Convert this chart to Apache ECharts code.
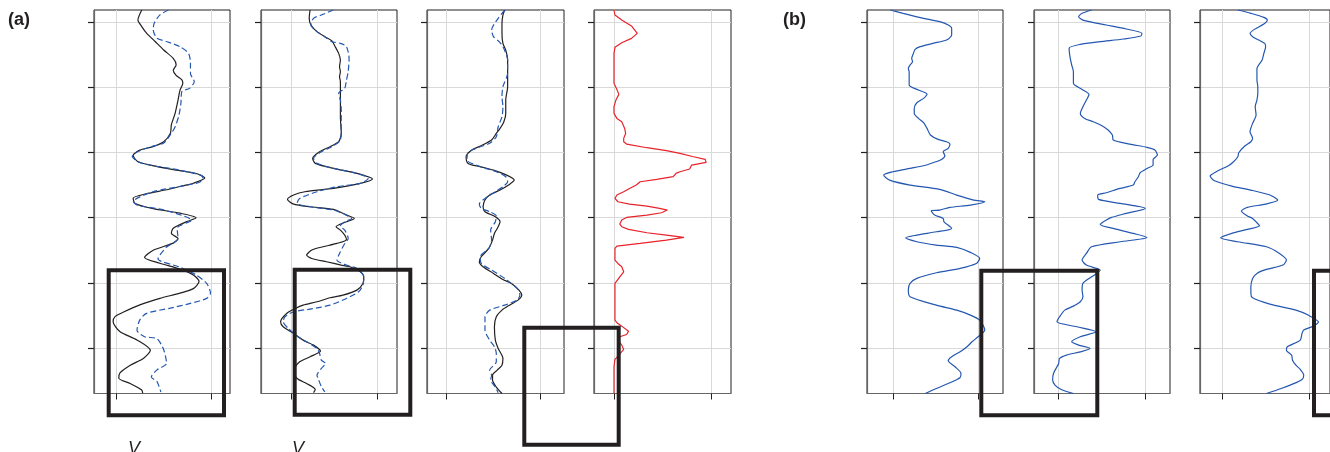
<!DOCTYPE html>
<html><head><meta charset="utf-8">
<script src="https://cdn.jsdelivr.net/npm/echarts@6/dist/echarts.min.js"></script>
<style>html,body{margin:0;padding:0;background:#fff}#c{width:1330px;height:452px}</style>
</head><body><div id="c"></div><script>
// ---- axis ticks ----
const depthTicks = [0, 1, 2, 3, 4, 5];
const valueTicks = [0, 1];
const panelLabels = ['(a)', '(b)'];
const axisLabelText = 'V';

// ---- series data: [value, depth] ----
const a1Black = [[0.27,-0.195],[0.23,-0.04],[0.27,0.06],[0.32,0.16],[0.41,0.29],[0.50,0.42],[0.60,0.55],[0.63,0.65],[0.60,0.73],[0.63,0.81],[0.69,0.88],[0.70,0.93],[0.67,1.04],[0.65,1.19],[0.62,1.39],[0.58,1.57],[0.57,1.70],[0.50,1.83],[0.38,1.91],[0.25,1.96],[0.18,2.04],[0.23,2.14],[0.36,2.19],[0.60,2.26],[0.84,2.32],[0.93,2.39],[0.81,2.47],[0.67,2.52],[0.53,2.57],[0.32,2.63],[0.18,2.70],[0.20,2.78],[0.39,2.86],[0.67,2.93],[0.84,3.00],[0.74,3.06],[0.60,3.16],[0.58,3.24],[0.65,3.32],[0.60,3.39],[0.39,3.50],[0.30,3.61],[0.46,3.70],[0.67,3.79],[0.81,3.88],[0.87,3.98],[0.81,4.09],[0.67,4.16],[0.46,4.24],[0.25,4.34],[0.08,4.45],[-0.01,4.52],[-0.03,4.60],[0.04,4.75],[0.22,4.88],[0.36,5.04],[0.29,5.16],[0.15,5.27],[0.04,5.39],[0.03,5.47],[0.15,5.55],[0.27,5.65],[0.28,5.70]];
const a1Blue = [[0.55,-0.195],[0.46,-0.12],[0.40,0.01],[0.39,0.11],[0.43,0.24],[0.53,0.29],[0.67,0.37],[0.76,0.47],[0.78,0.63],[0.78,0.78],[0.82,0.91],[0.77,1.01],[0.69,1.06],[0.68,1.24],[0.66,1.42],[0.62,1.60],[0.58,1.70],[0.50,1.85],[0.36,1.91],[0.22,1.99],[0.17,2.06],[0.25,2.15],[0.39,2.20],[0.67,2.27],[0.91,2.37],[0.88,2.45],[0.70,2.51],[0.39,2.60],[0.18,2.75],[0.23,2.81],[0.50,2.88],[0.79,3.04],[0.64,3.16],[0.65,3.32],[0.53,3.45],[0.44,3.63],[0.67,3.76],[0.84,3.88],[0.95,4.01],[0.99,4.16],[0.95,4.24],[0.77,4.32],[0.57,4.39],[0.32,4.47],[0.25,4.57],[0.22,4.73],[0.30,4.83],[0.43,4.86],[0.50,5.03],[0.53,5.24],[0.43,5.34],[0.37,5.45],[0.43,5.52],[0.47,5.68]];

const a2Black = [[0.22,-0.195],[0.21,-0.067],[0.23,0.036],[0.30,0.138],[0.39,0.215],[0.47,0.277],[0.51,0.369],[0.55,0.472],[0.57,0.574],[0.56,0.677],[0.57,0.754],[0.56,0.831],[0.57,0.908],[0.57,1.010],[0.57,1.190],[0.57,1.446],[0.58,1.703],[0.55,1.831],[0.45,1.908],[0.33,1.985],[0.25,2.087],[0.28,2.164],[0.49,2.241],[0.76,2.318],[0.94,2.405],[0.80,2.472],[0.49,2.549],[0.16,2.600],[0.03,2.651],[-0.04,2.718],[0.03,2.790],[0.22,2.831],[0.49,2.872],[0.64,2.959],[0.73,3.010],[0.64,3.062],[0.52,3.138],[0.57,3.190],[0.62,3.267],[0.64,3.333],[0.53,3.395],[0.37,3.446],[0.24,3.497],[0.18,3.574],[0.24,3.626],[0.41,3.677],[0.58,3.728],[0.68,3.754],[0.80,3.831],[0.84,3.908],[0.83,4.010],[0.76,4.113],[0.60,4.190],[0.45,4.231],[0.30,4.292],[0.14,4.344],[0.05,4.395],[-0.05,4.472],[-0.12,4.600],[-0.09,4.677],[0.03,4.779],[0.14,4.882],[0.26,4.959],[0.34,5.051],[0.22,5.138],[0.10,5.215],[0.05,5.292],[0.03,5.369],[0.07,5.472],[0.18,5.549],[0.28,5.641],[0.26,5.69]];
const a2Blue = [[0.49,-0.195],[0.35,-0.118],[0.26,-0.067],[0.23,0.036],[0.30,0.138],[0.39,0.215],[0.47,0.292],[0.57,0.318],[0.64,0.369],[0.67,0.549],[0.66,0.754],[0.64,0.882],[0.62,1.010],[0.55,1.087],[0.57,1.190],[0.58,1.344],[0.58,1.600],[0.57,1.805],[0.47,1.908],[0.35,1.985],[0.26,2.087],[0.30,2.164],[0.49,2.241],[0.76,2.318],[0.89,2.395],[0.80,2.472],[0.53,2.523],[0.30,2.600],[0.10,2.703],[0.07,2.779],[0.22,2.831],[0.49,2.882],[0.64,2.959],[0.70,3.010],[0.62,3.062],[0.57,3.128],[0.62,3.190],[0.66,3.318],[0.62,3.395],[0.56,3.549],[0.53,3.651],[0.64,3.728],[0.76,3.779],[0.84,3.908],[0.83,4.036],[0.78,4.138],[0.64,4.241],[0.45,4.344],[0.22,4.405],[0.03,4.446],[-0.07,4.523],[-0.09,4.600],[-0.03,4.703],[0.08,4.831],[0.18,4.908],[0.30,5.010],[0.33,5.087],[0.35,5.190],[0.40,5.241],[0.35,5.318],[0.30,5.421],[0.32,5.497],[0.35,5.595],[0.39,5.677]];

const a3Black = [[0.62,-0.195],[0.60,-0.118],[0.59,0.010],[0.59,0.164],[0.60,0.318],[0.63,0.421],[0.65,0.574],[0.65,0.779],[0.65,0.985],[0.63,1.190],[0.63,1.395],[0.61,1.523],[0.57,1.626],[0.53,1.703],[0.48,1.805],[0.37,1.892],[0.27,1.959],[0.21,2.062],[0.23,2.164],[0.36,2.215],[0.50,2.267],[0.64,2.344],[0.72,2.421],[0.66,2.497],[0.57,2.574],[0.46,2.651],[0.41,2.728],[0.39,2.831],[0.41,2.908],[0.52,2.985],[0.57,3.062],[0.54,3.164],[0.51,3.241],[0.49,3.344],[0.45,3.472],[0.37,3.600],[0.35,3.677],[0.39,3.754],[0.50,3.856],[0.60,3.949],[0.69,4.010],[0.77,4.113],[0.80,4.190],[0.76,4.267],[0.67,4.344],[0.59,4.421],[0.53,4.523],[0.51,4.677],[0.52,4.882],[0.55,5.010],[0.60,5.164],[0.59,5.267],[0.54,5.344],[0.49,5.421],[0.49,5.497],[0.53,5.605],[0.59,5.703]];
const a3Blue = [[0.62,-0.195],[0.55,-0.067],[0.48,0.113],[0.50,0.215],[0.56,0.292],[0.60,0.369],[0.65,0.574],[0.65,0.779],[0.60,0.985],[0.59,1.138],[0.60,1.292],[0.59,1.446],[0.55,1.600],[0.53,1.754],[0.46,1.856],[0.36,1.908],[0.23,2.000],[0.22,2.113],[0.36,2.215],[0.53,2.292],[0.63,2.369],[0.65,2.446],[0.60,2.523],[0.52,2.600],[0.41,2.703],[0.35,2.790],[0.37,2.856],[0.46,2.908],[0.53,2.974],[0.52,3.062],[0.47,3.190],[0.48,3.344],[0.45,3.472],[0.36,3.600],[0.37,3.703],[0.48,3.805],[0.62,3.933],[0.75,4.087],[0.78,4.190],[0.75,4.267],[0.62,4.344],[0.46,4.421],[0.41,4.523],[0.41,4.728],[0.46,4.882],[0.51,4.985],[0.53,5.087],[0.53,5.215],[0.46,5.344],[0.48,5.421],[0.47,5.497],[0.52,5.605],[0.55,5.692]];

const a4Red = [[0.00,-0.195],[0.01,-0.118],[0.08,-0.041],[0.18,0.051],[0.24,0.164],[0.18,0.241],[0.08,0.308],[0.01,0.379],[0.00,0.472],[0.00,0.933],[0.03,1.026],[0.05,1.103],[0.02,1.190],[0.00,1.292],[0.00,1.395],[0.03,1.472],[0.08,1.523],[0.11,1.626],[0.12,1.703],[0.10,1.779],[0.10,1.831],[0.13,1.867],[0.34,1.923],[0.54,1.969],[0.68,2.010],[0.82,2.062],[0.94,2.103],[0.95,2.149],[0.80,2.190],[0.78,2.251],[0.68,2.292],[0.64,2.318],[0.61,2.369],[0.44,2.410],[0.27,2.446],[0.23,2.497],[0.16,2.549],[0.10,2.600],[0.03,2.651],[0.01,2.703],[0.04,2.754],[0.16,2.790],[0.34,2.821],[0.47,2.856],[0.55,2.882],[0.49,2.923],[0.34,2.959],[0.13,2.995],[0.08,3.036],[0.06,3.097],[0.08,3.138],[0.15,3.179],[0.34,3.231],[0.54,3.267],[0.72,3.303],[0.54,3.344],[0.27,3.395],[0.03,3.436],[0.01,3.472],[0.01,3.651],[0.04,3.703],[0.08,3.754],[0.10,3.831],[0.06,3.908],[0.01,4.010],[0.01,4.062],[0.01,4.574],[0.03,4.615],[0.08,4.667],[0.15,4.744],[0.13,4.795],[0.06,4.831],[0.04,4.882],[0.08,4.959],[0.10,5.026],[0.05,5.113],[0.01,5.179],[0.00,5.292],[0.00,5.703]];

const b1Blue = [[-0.03,-0.195],[0.12,-0.144],[0.36,-0.067],[0.55,-0.015],[0.65,0.036],[0.69,0.087],[0.69,0.190],[0.63,0.267],[0.47,0.318],[0.32,0.369],[0.26,0.410],[0.24,0.472],[0.22,0.549],[0.23,0.600],[0.20,0.651],[0.18,0.703],[0.19,0.754],[0.19,0.831],[0.19,0.959],[0.30,1.036],[0.40,1.097],[0.36,1.164],[0.28,1.231],[0.25,1.318],[0.25,1.395],[0.30,1.472],[0.36,1.538],[0.40,1.626],[0.44,1.728],[0.53,1.795],[0.63,1.831],[0.67,1.867],[0.65,1.933],[0.59,1.985],[0.61,2.046],[0.57,2.103],[0.47,2.154],[0.36,2.200],[0.20,2.241],[0.00,2.292],[-0.11,2.344],[-0.04,2.421],[0.20,2.497],[0.55,2.564],[0.75,2.651],[0.95,2.728],[1.08,2.754],[0.91,2.805],[0.67,2.841],[0.55,2.882],[0.45,2.892],[0.49,2.959],[0.59,3.010],[0.60,3.062],[0.69,3.164],[0.51,3.215],[0.28,3.267],[0.15,3.308],[0.28,3.369],[0.51,3.421],[0.75,3.456],[0.91,3.533],[1.02,3.626],[0.98,3.703],[0.79,3.779],[0.51,3.846],[0.28,3.933],[0.20,4.010],[0.18,4.113],[0.20,4.215],[0.51,4.344],[0.75,4.421],[0.91,4.497],[1.02,4.574],[1.08,4.728],[1.00,4.831],[0.93,4.908],[0.87,4.985],[0.79,5.062],[0.69,5.138],[0.65,5.200],[0.73,5.292],[0.80,5.395],[0.79,5.456],[0.67,5.538],[0.51,5.626],[0.38,5.703]];

const b2Blue = [[0.38,-0.195],[0.27,-0.144],[0.23,-0.092],[0.30,-0.031],[0.55,0.036],[0.78,0.097],[0.96,0.164],[0.95,0.205],[0.75,0.251],[0.48,0.292],[0.25,0.333],[0.12,0.395],[0.13,0.523],[0.15,0.651],[0.17,0.754],[0.17,0.933],[0.27,1.026],[0.35,1.103],[0.32,1.190],[0.28,1.292],[0.25,1.395],[0.30,1.472],[0.40,1.523],[0.50,1.585],[0.57,1.651],[0.62,1.728],[0.63,1.805],[0.82,1.867],[1.02,1.918],[1.11,1.959],[1.14,2.036],[1.09,2.103],[1.09,2.190],[1.02,2.241],[0.94,2.308],[0.92,2.369],[0.88,2.446],[0.86,2.497],[0.71,2.549],[0.55,2.615],[0.45,2.651],[0.46,2.718],[0.71,2.779],[1.00,2.856],[0.78,2.933],[0.61,2.995],[0.55,3.036],[0.48,3.103],[0.63,3.164],[0.86,3.241],[1.02,3.303],[0.71,3.369],[0.38,3.446],[0.32,3.549],[0.27,3.651],[0.32,3.728],[0.44,3.779],[0.48,3.805],[0.38,3.908],[0.28,4.010],[0.27,4.113],[0.28,4.215],[0.25,4.292],[0.17,4.359],[0.07,4.421],[0.01,4.523],[-0.02,4.600],[0.21,4.677],[0.43,4.754],[0.25,4.831],[0.15,4.908],[0.23,4.959],[0.36,5.010],[0.25,5.062],[0.09,5.113],[0.01,5.164],[0.00,5.241],[-0.02,5.292],[-0.06,5.395],[-0.07,5.497],[-0.04,5.579],[0.03,5.641],[0.17,5.703]];

const b3Blue = [[0.18,-0.195],[0.33,-0.144],[0.48,-0.082],[0.52,-0.041],[0.48,0.021],[0.37,0.103],[0.32,0.164],[0.35,0.215],[0.42,0.267],[0.49,0.318],[0.50,0.369],[0.48,0.472],[0.46,0.574],[0.42,0.651],[0.40,0.703],[0.40,0.882],[0.41,0.985],[0.41,1.087],[0.40,1.190],[0.38,1.292],[0.39,1.421],[0.35,1.549],[0.32,1.677],[0.35,1.779],[0.33,1.831],[0.26,1.897],[0.19,2.000],[0.18,2.062],[0.13,2.138],[0.07,2.200],[-0.07,2.292],[-0.14,2.359],[-0.09,2.431],[0.11,2.513],[0.33,2.574],[0.55,2.651],[0.64,2.728],[0.50,2.790],[0.29,2.841],[0.22,2.897],[0.29,2.974],[0.35,3.010],[0.40,3.077],[0.43,3.123],[0.29,3.179],[0.11,3.241],[-0.02,3.308],[0.18,3.369],[0.51,3.446],[0.66,3.549],[0.74,3.651],[0.70,3.728],[0.51,3.795],[0.40,3.856],[0.35,3.933],[0.33,4.062],[0.33,4.164],[0.35,4.231],[0.55,4.328],[0.85,4.421],[0.99,4.497],[1.11,4.605],[1.05,4.667],[0.94,4.728],[0.92,4.779],[0.90,4.882],[0.75,4.985],[0.74,5.036],[0.80,5.113],[0.81,5.190],[0.85,5.267],[0.90,5.333],[0.94,5.421],[0.92,5.487],[0.81,5.559],[0.68,5.626],[0.51,5.703]];

// ---- styles / layout ----
const BLACK = '#231f20', BLUE = '#2457b0', RED = '#e8232a';
const solid = (data, color) => ({ data, color, dash: null });
const dashed = (data, color) => ({ data, color, dash: [6, 3] });
const panels = [
  { left: 94,  width: 136, xMin: -0.230, xMax: 1.194, lines: [solid(a1Black, BLACK), dashed(a1Blue, BLUE)] },
  { left: 261, width: 136, xMin: -0.346, xMax: 1.223, lines: [solid(a2Black, BLACK), dashed(a2Blue, BLUE)] },
  { left: 427, width: 137, xMin: -0.204, xMax: 1.247, lines: [solid(a3Black, BLACK), dashed(a3Blue, BLUE)] },
  { left: 594, width: 137, xMin: -0.206, xMax: 1.206, lines: [solid(a4Red, RED)] },
  { left: 867, width: 136, xMin: -0.306, xMax: 1.294, lines: [solid(b1Blue, BLUE)] },
  { left: 1034, width: 136, xMin: -0.285, xMax: 1.285, lines: [solid(b2Blue, BLUE)] },
  { left: 1200, width: 136, xMin: -0.257, xMax: 1.243, lines: [solid(b3Blue, BLUE)] }
];

const grid = [], xAxis = [], yAxis = [], series = [];
panels.forEach((p, i) => {
  grid.push({ left: p.left, top: 10, width: p.width, height: 383.5, show: true,
    borderColor: BLACK, borderWidth: 1, backgroundColor: 'transparent', containLabel: false });
  xAxis.push({ type: 'value', gridIndex: i, min: p.xMin, max: p.xMax, position: 'bottom',
    axisLine: { show: true, onZero: false, lineStyle: { color: '#666', width: 1.2 } },
    axisTick: { show: true, length: 6, customValues: valueTicks, lineStyle: { color: BLACK, width: 1 } },
    axisLabel: { show: false },
    splitLine: { show: true, lineStyle: { color: '#d9d9d9', width: 1 } } });
  yAxis.push({ type: 'value', gridIndex: i, min: -0.195, max: 5.703, inverse: true, position: 'left',
    axisLine: { show: true, onZero: false, lineStyle: { color: '#666', width: 1.2 } },
    axisTick: { show: true, length: 6, customValues: depthTicks, lineStyle: { color: BLACK, width: 1.2 } },
    axisLabel: { show: false },
    splitLine: { show: true, lineStyle: { color: '#d9d9d9', width: 1 } } });
  p.lines.forEach(l => {
    series.push({ type: 'line', xAxisIndex: i, yAxisIndex: i, data: l.data, symbol: 'none',
      smooth: l.color === RED ? false : 0.25, animation: false, clip: true,
      lineStyle: { color: l.color, width: 1.2, type: l.dash ? l.dash : 'solid' } });
  });
});

const chart = echarts.init(document.getElementById('c'), null, { renderer: 'canvas' });
const boxStyle = { fill: 'none', stroke: BLACK, lineWidth: 4 };
const titleFont = 'bold 18px "Liberation Sans", Arial, sans-serif';
const vFont = 'italic 18px "Liberation Sans", Arial, sans-serif';
chart.setOption({
  animation: false,
  backgroundColor: '#fff',
  grid, xAxis, yAxis, series,
  graphic: [
    { type: 'text', left: 8, top: 11, z: 100, style: { text: panelLabels[0], font: titleFont, fill: BLACK } },
    { type: 'text', left: 783, top: 11, z: 100, style: { text: panelLabels[1], font: titleFont, fill: BLACK } },
    { type: 'text', x: 128, y: 440, z: 100, style: { text: axisLabelText, font: vFont, fill: BLACK } },
    { type: 'text', x: 292, y: 440, z: 100, style: { text: axisLabelText, font: vFont, fill: BLACK } },
    { type: 'rect', z: 100, shape: { x: 108.7, y: 270.3, width: 115.3, height: 145 }, style: boxStyle },
    { type: 'rect', z: 100, shape: { x: 294.7, y: 269.7, width: 115.6, height: 145 }, style: boxStyle },
    { type: 'rect', z: 100, shape: { x: 524.3, y: 327.7, width: 94.4, height: 117 }, style: boxStyle },
    { type: 'rect', z: 100, shape: { x: 981.3, y: 270.7, width: 116, height: 144.6 }, style: boxStyle },
    { type: 'rect', z: 100, shape: { x: 1314, y: 270.7, width: 116, height: 144.6 }, style: boxStyle }
  ]
});
</script></body></html>
